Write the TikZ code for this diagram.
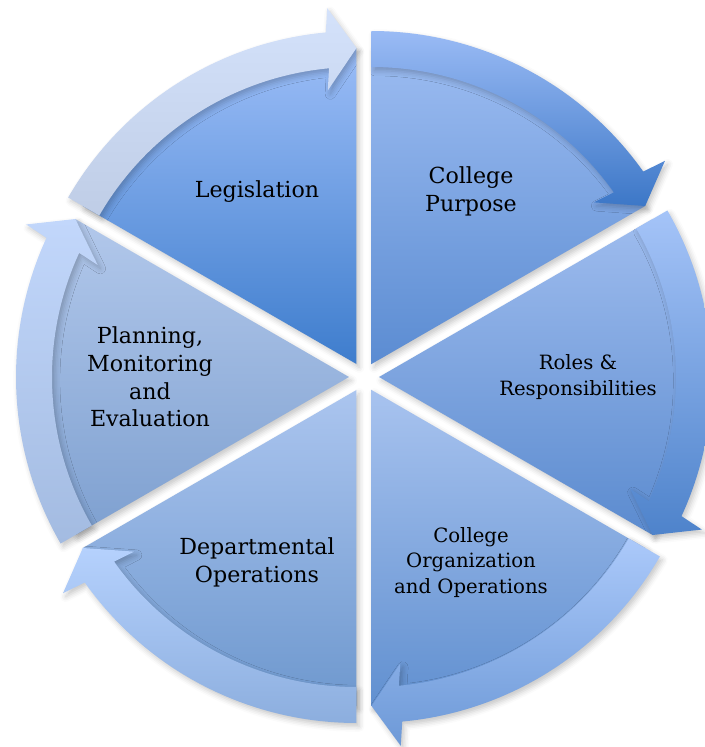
\documentclass[tikz,border=0pt]{standalone}
\usepackage{fontspec}
\setmainfont{DejaVu Serif}
\usetikzlibrary{shadows.blur}

% Segment colours (top and bottom of each shading)
\definecolor{legSecTop}{HTML}{9BBDF7}
\definecolor{legSecBot}{HTML}{3E7DCD}
\definecolor{legArrTop}{HTML}{D4E2FB}
\definecolor{legArrBot}{HTML}{BFCDE6}
\definecolor{purSecTop}{HTML}{9CBCF1}
\definecolor{purSecBot}{HTML}{5B8CD2}
\definecolor{purArrTop}{HTML}{9ABBF5}
\definecolor{purArrBot}{HTML}{3C77C7}
\definecolor{rolSecTop}{HTML}{9EBCEE}
\definecolor{rolSecBot}{HTML}{5B8BCF}
\definecolor{rolArrTop}{HTML}{A5C4F8}
\definecolor{rolArrBot}{HTML}{4E83CB}
\definecolor{orgSecTop}{HTML}{A8C3EF}
\definecolor{orgSecBot}{HTML}{6190D0}
\definecolor{orgArrTop}{HTML}{ABC9FA}
\definecolor{orgArrBot}{HTML}{6D99D7}
\definecolor{depSecTop}{HTML}{ABC5EF}
\definecolor{depSecBot}{HTML}{6E98CE}
\definecolor{depArrTop}{HTML}{B5D1FD}
\definecolor{depArrBot}{HTML}{8CAEDE}
\definecolor{plaSecTop}{HTML}{B2C8EB}
\definecolor{plaSecBot}{HTML}{7EA0D0}
\definecolor{plaArrTop}{HTML}{C2D7FB}
\definecolor{plaArrBot}{HTML}{A3BBE1}

\tikzset{
	piece/.style = {blur shadow = {shadow xshift = 1.5pt, shadow yshift = -2pt,
		shadow blur radius = 3pt, shadow opacity = 22}},
	big label/.style = {align = center, font = \fontsize{12.6}{15.8}\selectfont},
	small label/.style = {align = center, font = \fontsize{11.2}{14.4}\selectfont}
}

\begin{document}
\begin{tikzpicture}[x = 0.02 cm, y = 0.02 cm]

% Definitions

\def\gap{15}
\def\Rsec{316}
\def\Rin{297}
\def\Rmid{316}
\def\Rout{333}
\def\Rwin{275}
\def\Rwout{357}

\useasboundingbox (-364, -370) rectangle (340, 377);

% Legislation

\begin{scope}[shift = {(120 : \gap)}]
	\shade [piece, top color = legSecTop, bottom color = legSecBot]
		(0, 0) -- (90 : \Rsec) arc [start angle = 90, end angle = 150, radius = \Rsec] -- cycle;
	\shade [piece, top color = legArrTop, bottom color = legArrBot]
		(150 : \Rout) arc [start angle = 150, end angle = 95.3, radius = \Rout]
		-- (94.7 : \Rwout) -- (90 : \Rmid) -- (96 : \Rwin) -- (95.3 : \Rin)
		arc [start angle = 95.3, end angle = 150, radius = \Rin] -- cycle;
\end{scope}

% College purpose

\begin{scope}[shift = {(60 : \gap)}]
	\shade [piece, top color = purSecTop, bottom color = purSecBot]
		(0, 0) -- (30 : \Rsec) arc [start angle = 30, end angle = 90, radius = \Rsec] -- cycle;
	\shade [piece, top color = purArrTop, bottom color = purArrBot]
		(90 : \Rout) arc [start angle = 90, end angle = 35.3, radius = \Rout]
		-- (34.7 : \Rwout) -- (30 : \Rmid) -- (36 : \Rwin) -- (35.3 : \Rin)
		arc [start angle = 35.3, end angle = 90, radius = \Rin] -- cycle;
\end{scope}

% Roles

\begin{scope}[shift = {(0 : \gap)}]
	\shade [piece, top color = rolSecTop, bottom color = rolSecBot]
		(0, 0) -- (-30 : \Rsec) arc [start angle = -30, end angle = 30, radius = \Rsec] -- cycle;
	\shade [piece, top color = rolArrTop, bottom color = rolArrBot]
		(30 : \Rout) arc [start angle = 30, end angle = -24.7, radius = \Rout]
		-- (-25.3 : \Rwout) -- (-30 : \Rmid) -- (-24 : \Rwin) -- (-24.7 : \Rin)
		arc [start angle = -24.7, end angle = 30, radius = \Rin] -- cycle;
\end{scope}

% College organization

\begin{scope}[shift = {(-60 : \gap)}]
	\shade [piece, top color = orgSecTop, bottom color = orgSecBot]
		(0, 0) -- (-90 : \Rsec) arc [start angle = -90, end angle = -30, radius = \Rsec] -- cycle;
	\shade [piece, top color = orgArrTop, bottom color = orgArrBot]
		(-30 : \Rout) arc [start angle = -30, end angle = -84.7, radius = \Rout]
		-- (-85.3 : \Rwout) -- (-90 : \Rmid) -- (-84 : \Rwin) -- (-84.7 : \Rin)
		arc [start angle = -84.7, end angle = -30, radius = \Rin] -- cycle;
\end{scope}

% Departmental operations

\begin{scope}[shift = {(-120 : \gap)}]
	\shade [piece, top color = depSecTop, bottom color = depSecBot]
		(0, 0) -- (-150 : \Rsec) arc [start angle = -150, end angle = -90, radius = \Rsec] -- cycle;
	\shade [piece, top color = depArrTop, bottom color = depArrBot]
		(-90 : \Rout) arc [start angle = -90, end angle = -144.7, radius = \Rout]
		-- (-145.3 : \Rwout) -- (-150 : \Rmid) -- (-144 : \Rwin) -- (-144.7 : \Rin)
		arc [start angle = -144.7, end angle = -90, radius = \Rin] -- cycle;
\end{scope}

% Planning

\begin{scope}[shift = {(180 : \gap)}]
	\shade [piece, top color = plaSecTop, bottom color = plaSecBot]
		(0, 0) -- (150 : \Rsec) arc [start angle = 150, end angle = 210, radius = \Rsec] -- cycle;
	\shade [piece, top color = plaArrTop, bottom color = plaArrBot]
		(210 : \Rout) arc [start angle = 210, end angle = 155.3, radius = \Rout]
		-- (154.7 : \Rwout) -- (150 : \Rmid) -- (156 : \Rwin) -- (155.3 : \Rin)
		arc [start angle = 155.3, end angle = 210, radius = \Rin] -- cycle;
\end{scope}

% Labels

\node [big label] (legislation) at (120 : 214) {Legislation};
\node [big label] (purpose) at (60 : 214) {College\\Purpose};
\node [small label] (roles) at (0 : 214) {Roles \&\\Responsibilities};
\node [small label] (organization) at (-60 : 214) {College\\Organization\\and Operations};
\node [big label] (departmental) at (-120 : 214) {Departmental\\Operations};
\node [big label] (planning) at (180 : 214) {Planning,\\Monitoring\\and\\Evaluation};

\end{tikzpicture}
\end{document}
